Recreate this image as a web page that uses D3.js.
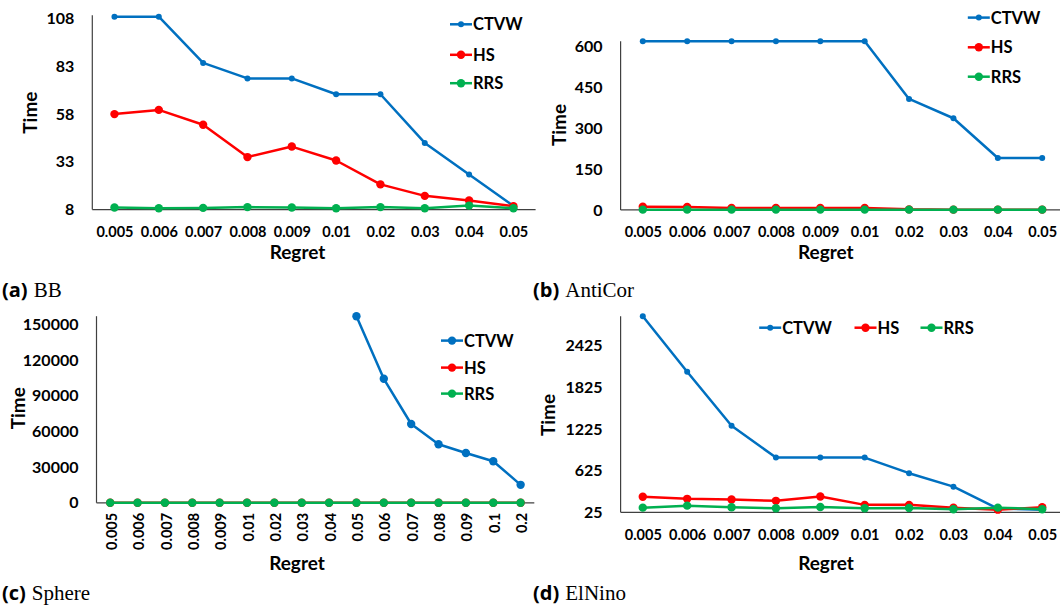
<!doctype html>
<html lang="en">
<head>
    <meta charset="utf-8"/>
    <title>Time vs Regret</title>
    <script src="https://d3js.org/d3.v7.min.js"></script>
    <style>
        body { margin: 0; background: #fff; }
        svg text { font-family: Lato, "Open Sans", sans-serif; font-weight: 700; fill: #000; }
        svg text.cap-name { font-family: "Liberation Serif", "DejaVu Serif", serif; font-weight: 400; }
    </style>
</head>
<body>

<svg id="chart" width="1060" height="609"></svg>

<script>
    // categories
    const regret = ["0.005", "0.006", "0.007", "0.008", "0.009", "0.01", "0.02", "0.03", "0.04", "0.05"];
    const regretSphere = ["0.005", "0.006", "0.007", "0.008", "0.009", "0.01", "0.02", "0.03", "0.04", "0.05",
        "0.06", "0.07", "0.08", "0.09", "0.1", "0.2"];

    const seriesNames = ["CTVW", "HS", "RRS"];
    const colors = ["#0070C0", "#FF0000", "#00B050"];

    // (a) BB
    const bbCTVW = [109, 109, 84.8, 76.7, 76.7, 68.4, 68.4, 42.9, 26.4, 9.9];
    const bbHS = [58, 60.2, 52.4, 35.5, 41, 33.7, 21.2, 15.2, 12.8, 9.8];
    const bbRRS = [9.1, 8.7, 8.9, 9.3, 9.1, 8.7, 9.3, 8.7, 10.1, 8.7];
    const bbTicks = [8, 33, 58, 83, 108];

    // (b) AntiCor
    const antiCTVW = [620, 620, 620, 620, 620, 620, 408, 337, 191, 191];
    const antiHS = [12, 11, 7, 7, 7, 7, 2, 1, 1, 1];
    const antiRRS = [1, 1, 1, 1, 1, 1, 1, 1, 1, 1];
    const antiTicks = [0, 150, 300, 450, 600];

    // (c) Sphere (CTVW has no result below 0.05)
    const sphereCTVW = [null, null, null, null, null, null, null, null, null,
        156800, 104200, 66200, 49200, 41800, 34900, 15100];
    const sphereHS = [0, 0, 0, 0, 0, 0, 0, 0, 0, 0, 0, 0, 0, 0, 0, 0];
    const sphereRRS = [0, 0, 0, 0, 0, 0, 0, 0, 0, 0, 0, 0, 0, 0, 0, 0];
    const sphereTicks = [0, 30000, 60000, 90000, 120000, 150000];

    // (d) ElNino
    const elCTVW = [2847, 2048, 1270, 813, 813, 813, 588, 394, 78, 63];
    const elHS = [248, 219, 209, 190, 253, 132, 132, 92, 63, 98];
    const elRRS = [92, 121, 98, 83, 102, 83, 88, 69, 92, 69];
    const elTicks = [25, 625, 1225, 1825, 2425];

    const panels = [
        {
            tag: "(a)", name: "BB", cats: regret, data: [bbCTVW, bbHS, bbRRS], ticks: bbTicks,
            x0: 92.3, x1: 535.6, yBottom: 209.6, yTop: 18.6, axisTop: 15.2, ctvwR: 3,
            time: [30.4, 112.6], regretLab: [297.5, 251.9], cap: [2, 297],
            legend: {vertical: true, x: [450], y: [24.3, 54.8, 83.2]}
        },
        {
            tag: "(b)", name: "AntiCor", cats: regret, data: [antiCTVW, antiHS, antiRRS], ticks: antiTicks,
            x0: 620.6, x1: 1064.4, yBottom: 209.9, yTop: 46.7, axisTop: 41.2, ctvwR: 3,
            time: [558.7, 125], regretLab: [825.8, 251.9], cap: [533, 297],
            legend: {vertical: true, x: [967.8], y: [17.6, 47.3, 76.7]}
        },
        {
            tag: "(c)", name: "Sphere", cats: regretSphere, data: [sphereCTVW, sphereHS, sphereRRS], ticks: sphereTicks,
            x0: 96.5, x1: 534.3, yBottom: 502.8, yTop: 324.3, axisTop: 316.2, ctvwR: 4.2, rotated: true,
            time: [18.6, 408.2], regretLab: [297, 563], cap: [2, 600],
            legend: {vertical: true, x: [441], y: [340.6, 367.6, 393.6]}
        },
        {
            tag: "(d)", name: "ElNino", cats: regret, data: [elCTVW, elHS, elRRS], ticks: elTicks,
            x0: 620.6, x1: 1064.4, yBottom: 512.3, yTop: 345.6, axisTop: 316.2, ctvwR: 3,
            time: [548.6, 415], regretLab: [826, 563], cap: [533, 600],
            legend: {vertical: false, x: [759.2, 854.5, 920.5], y: [327.7]}
        }
    ];

    const svg = d3.select("#chart");

    panels.forEach(drawPanel);

    function drawPanel(p) {
        let g = svg.append("g");

        let x = d3.scalePoint()
            .domain(p.cats)
            .range([p.x0, p.x1])
            .padding(0.5);

        let y = d3.scaleLinear()
            .domain([p.ticks[0], p.ticks[p.ticks.length - 1]])
            .range([p.yBottom, p.yTop]);

        // axis lines
        g.append("line")
            .attr("x1", p.x0).attr("x2", p.x0)
            .attr("y1", p.axisTop).attr("y2", p.yBottom)
            .attr("stroke", "#404040").attr("stroke-width", 1.2);
        g.append("line")
            .attr("x1", p.x0).attr("x2", p.x1)
            .attr("y1", p.yBottom).attr("y2", p.yBottom)
            .attr("stroke", "#404040").attr("stroke-width", 1.2);

        // y ticks
        g.append("g")
            .attr("transform", `translate(${p.x0},0)`)
            .call(d3.axisLeft(y).tickValues(p.ticks).tickSize(0).tickPadding(18).tickFormat(d3.format("d")))
            .call(a => a.select(".domain").remove())
            .selectAll("text")
            .attr("font-size", 16);

        // x ticks
        let xa = g.append("g")
            .attr("transform", `translate(0,${p.yBottom})`)
            .call(d3.axisBottom(x).tickSize(0).tickPadding(17))
            .call(a => a.select(".domain").remove());
        xa.selectAll("text").attr("font-size", 14.5);
        if (p.rotated) {
            xa.selectAll("text")
                .attr("transform", "rotate(-90)")
                .attr("text-anchor", "end")
                .attr("x", -10)
                .attr("y", 0)
                .attr("dy", "0.42em");
        }

        // series
        let line = d3.line()
            .defined(d => d != null)
            .x((d, i) => x(p.cats[i]))
            .y(d => y(d));

        p.data.forEach((vals, s) => {
            let r = s === 0 ? p.ctvwR : 4.2;
            g.append("path")
                .attr("d", line(vals))
                .attr("fill", "none")
                .attr("stroke", colors[s])
                .attr("stroke-width", 2.5)
                .attr("stroke-linejoin", "round");
            g.selectAll(null)
                .data(vals.map((v, i) => [p.cats[i], v]).filter(d => d[1] != null))
                .enter()
                .append("circle")
                .attr("cx", d => x(d[0]))
                .attr("cy", d => y(d[1]))
                .attr("r", r)
                .attr("fill", colors[s]);
        });

        // legend
        seriesNames.forEach((name, s) => {
            let lx = p.legend.vertical ? p.legend.x[0] : p.legend.x[s];
            let ly = p.legend.vertical ? p.legend.y[s] : p.legend.y[0];
            let r = s === 0 ? p.ctvwR : 4.2;
            g.append("line")
                .attr("x1", lx).attr("x2", lx + 22)
                .attr("y1", ly).attr("y2", ly)
                .attr("stroke", colors[s]).attr("stroke-width", 2.5);
            g.append("circle")
                .attr("cx", lx + 11).attr("cy", ly).attr("r", r)
                .attr("fill", colors[s]);
            g.append("text")
                .attr("x", lx + 23).attr("y", ly)
                .attr("dy", "0.36em")
                .attr("font-size", 16.5)
                .text(name);
        });

        // axis titles
        g.append("text")
            .attr("transform", `translate(${p.time[0]},${p.time[1]}) rotate(-90)`)
            .attr("text-anchor", "middle")
            .attr("dy", "0.36em")
            .attr("font-size", 19)
            .text("Time");
        g.append("text")
            .attr("x", p.regretLab[0]).attr("y", p.regretLab[1])
            .attr("text-anchor", "middle")
            .attr("dy", "0.36em")
            .attr("font-size", 19)
            .text("Regret");

        // caption
        let cap = svg.append("text")
            .attr("x", p.cap[0]).attr("y", p.cap[1]);
        cap.append("tspan")
            .attr("font-size", 20)
            .attr("font-family", "'Open Sans', Lato, sans-serif")
            .style("font-weight", 700)
            .text(p.tag);
        cap.append("tspan")
            .attr("class", "cap-name")
            .attr("dx", 6)
            .attr("font-size", 21)
            .style("font-family", "'Liberation Serif', serif")
            .style("font-weight", 400)
            .text(p.name);
    }
</script>

</body>
</html>
